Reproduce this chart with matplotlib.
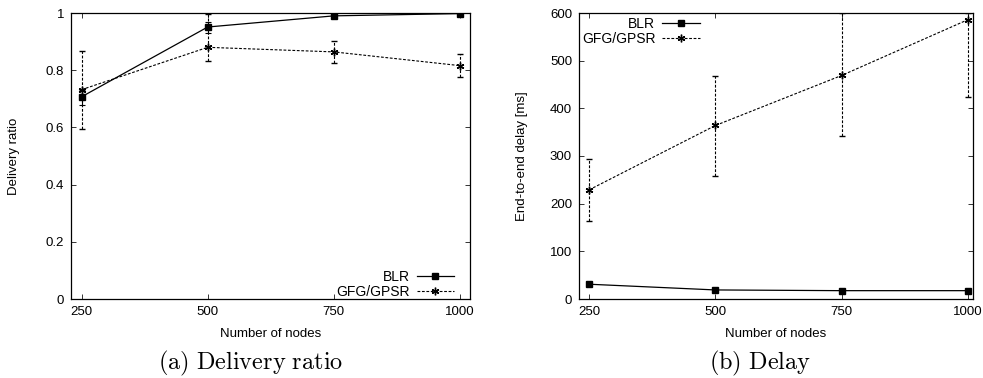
import matplotlib
matplotlib.use("Agg")
import matplotlib.pyplot as plt
import numpy as np

plt.rcParams['font.family'] = ['Liberation Sans', 'DejaVu Sans']
plt.rcParams['mathtext.fontset'] = 'cm'

# data
nodes = [250, 500, 750, 1000]

# delivery ratio
blr_ratio = [0.707, 0.951, 0.990, 0.998]
blr_ratio_lo = [0.679, 0.931, 0.985, 0.995]
blr_ratio_hi = [0.732, 0.970, 0.995, 1.0]
gfg_ratio = [0.732, 0.880, 0.864, 0.816]
gfg_ratio_lo = [0.593, 0.831, 0.826, 0.775]
gfg_ratio_hi = [0.867, 0.998, 0.902, 0.858]

# delay [ms]
blr_delay = [31, 19, 17.5, 17.5]
blr_delay_lo = [28, 17, 16, 16]
blr_delay_hi = [35, 21, 19, 19]
gfg_delay = [229, 364, 469, 586]
gfg_delay_lo = [164, 258, 342, 424]
gfg_delay_hi = [294, 468, 599, 600]

W, H = 983, 378
fig = plt.figure(figsize=(W / 100, H / 100), dpi=100)

DASH = (0, (2.5, 1.5))


def ax_rect(l, r, t, b):
    return [l / W, 1 - b / H, (r - l) / W, (b - t) / H]


def draw(ax, blr, blo, bhi, gfg, glo, ghi):
    b = np.array(blr); g = np.array(gfg)
    ax.errorbar(nodes, b, yerr=[b - np.array(blo), np.array(bhi) - b],
                color='black', lw=0.9, capsize=2, elinewidth=0.8, capthick=0.8,
                marker='s', ms=4.5, zorder=3)
    eb = ax.errorbar(nodes, g, yerr=[g - np.array(glo), np.array(ghi) - g],
                     color='black', lw=0.8, ls=DASH, capsize=2,
                     elinewidth=0.8, capthick=0.8, marker=(6, 2, 0), ms=5.5,
                     mew=1.0, zorder=3)
    eb[2][0].set_linestyle(DASH)
    h1, = ax.plot([], [], color='black', lw=0.9, marker='s', ms=4.5)
    h2, = ax.plot([], [], color='black', lw=0.8, ls=DASH,
                  marker=(6, 2, 0), ms=5.5, mew=1.0)
    ax.set_xticks(nodes)
    ax.tick_params(direction='in', length=3.5, width=0.7, top=True, right=True,
                   labelsize=9.5, pad=5, color='#333333')
    for s in ax.spines.values():
        s.set_linewidth(0.9)
    ax.set_xlabel('Number of nodes', fontsize=9.5, labelpad=7)
    return h1, h2


LEG = dict(markerfirst=False, frameon=False, fontsize=10, handlelength=2.7,
           handletextpad=0.5, labelspacing=0.05, borderpad=0.2,
           borderaxespad=0.0)

ax1 = fig.add_axes(ax_rect(71, 470, 13, 299))
h1, h2 = draw(ax1, blr_ratio, blr_ratio_lo, blr_ratio_hi,
              gfg_ratio, gfg_ratio_lo, gfg_ratio_hi)
ax1.set_xlim(229, 1020)
ax1.set_ylim(0, 1)
ax1.set_yticks([0, 0.2, 0.4, 0.6, 0.8, 1])
ax1.set_yticklabels(['0', '0.2', '0.4', '0.6', '0.8', '1'])
ax1.set_ylabel('Delivery ratio', fontsize=9.5)
ax1.yaxis.set_label_coords(-0.128, 0.5)
ax1.legend([h1, h2], ['BLR', 'GFG/GPSR'], loc='lower right',
           bbox_to_anchor=(0.967, -0.008), **LEG)

ax2 = fig.add_axes(ax_rect(579, 973, 13, 299))
h1, h2 = draw(ax2, blr_delay, blr_delay_lo, blr_delay_hi,
              gfg_delay, gfg_delay_lo, gfg_delay_hi)
ax2.set_xlim(230, 1010)
ax2.set_ylim(0, 600)
ax2.set_yticks([0, 100, 200, 300, 400, 500, 600])
ax2.set_ylabel('End-to-end delay [ms]', fontsize=9.5)
ax2.yaxis.set_label_coords(-0.129, 0.5)
ax2.legend([h1, h2], ['BLR', 'GFG/GPSR'], loc='upper left',
           bbox_to_anchor=(0.0, 0.995), **LEG)

fig.text(251 / W, 1 - 363 / H, r'$\mathrm{(a)\ Delivery\ ratio}$', ha='center',
         va='center', fontsize=17.5)
fig.text(760 / W, 1 - 363 / H, r'$\mathrm{(b)\ Delay}$', ha='center',
         va='center', fontsize=17.5)

fig.savefig('out.png', dpi=100)
